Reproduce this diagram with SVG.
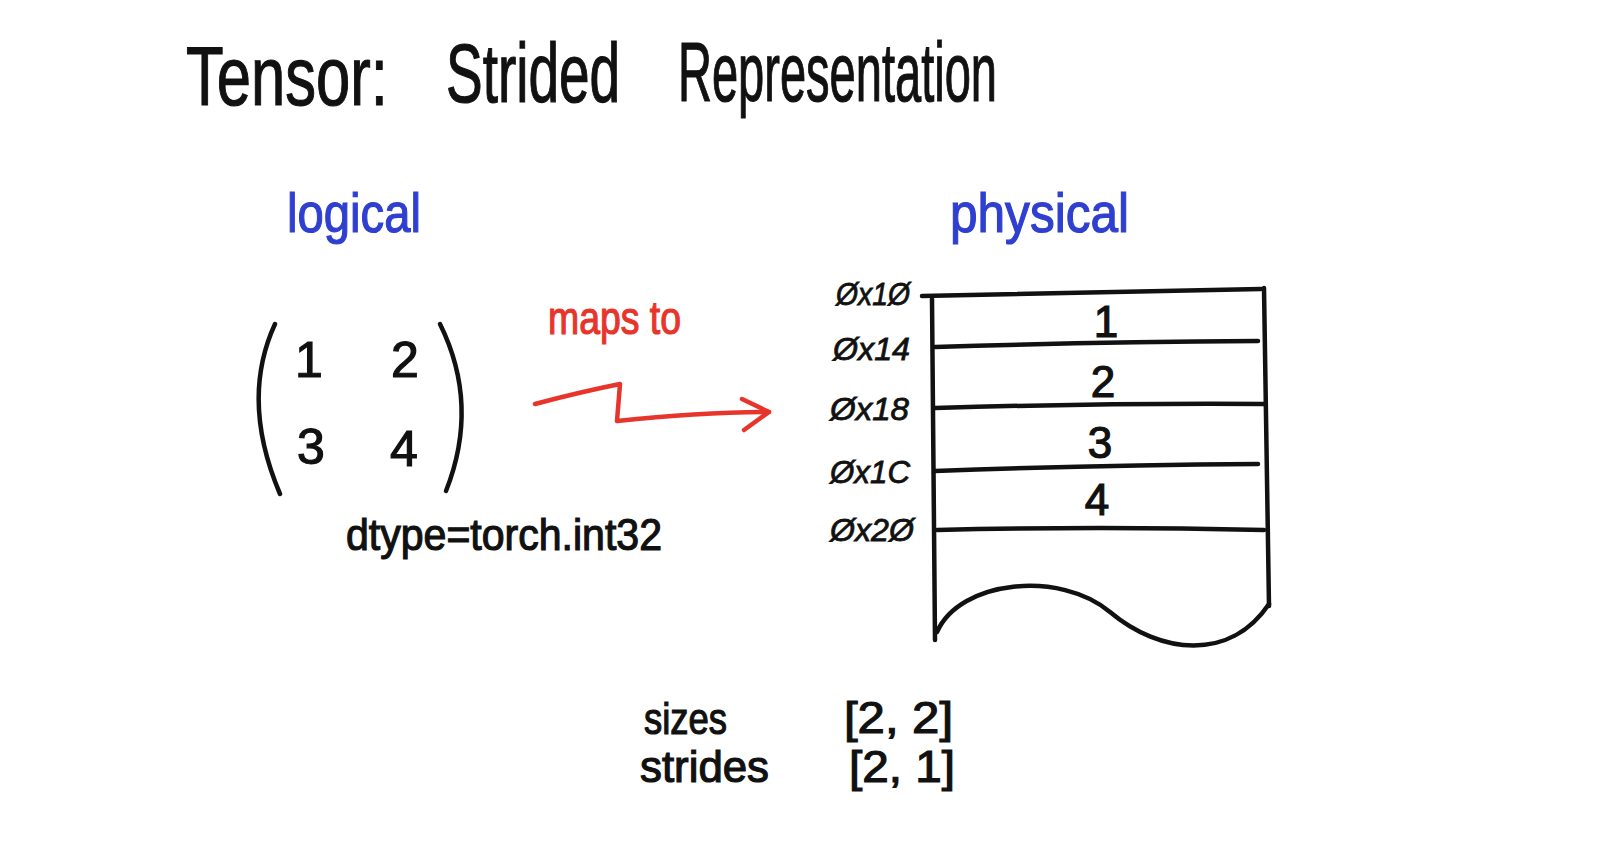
<svg xmlns="http://www.w3.org/2000/svg" width="1598" height="864" viewBox="0 0 1598 864">
<style>
text{font-family:"Liberation Sans","DejaVu Sans",sans-serif;fill:#111;stroke:#111;stroke-width:1.2}
.title{font-size:84px}
.blue{fill:#2f3fcf;stroke:#2f3fcf;font-size:56px}
.red{fill:#e8352b;stroke:#e8352b;font-size:46px}
.num{font-size:50px}
.cell{font-size:44px;text-anchor:middle}
.addr{font-size:32px;font-style:italic;stroke-width:0.8}
.lbl{font-size:44px}
.ink{fill:none;stroke:#111;stroke-width:4.5;stroke-linecap:round;stroke-linejoin:round}
.redink{fill:none;stroke:#e8352b;stroke-width:4.5;stroke-linecap:round;stroke-linejoin:round}
</style>
<rect width="1598" height="864" fill="#fff"/>
<g id="title">
<text class="title" transform="translate(186,105) scale(0.733,1)">Tensor:</text>
<text class="title" transform="translate(446,102) scale(0.654,1)">Strided</text>
<text class="title" transform="translate(678,101) scale(0.56,1)">Representation</text>
</g>
<g id="logical">
<text class="blue" x="287" y="232" textLength="134" lengthAdjust="spacingAndGlyphs">logical</text>
</g>
<g id="physical-label">
<text class="blue" x="950" y="232" textLength="179" lengthAdjust="spacingAndGlyphs">physical</text>
</g>
<g id="matrix">
<path class="ink" d="M275,324 Q240,400 280,494"/>
<path class="ink" d="M440,324 Q480,405 446,491"/>
<text class="num" x="309" y="377" text-anchor="middle">1</text>
<text class="num" x="405" y="377" text-anchor="middle">2</text>
<text class="num" x="311" y="464" text-anchor="middle">3</text>
<text class="num" x="404" y="466" text-anchor="middle">4</text>
<text class="lbl" x="346" y="550" textLength="316" lengthAdjust="spacingAndGlyphs">dtype=torch.int32</text>
</g>
<g id="connectors">
<text class="red" x="548" y="334" textLength="133" lengthAdjust="spacingAndGlyphs">maps to</text>
<path class="redink" d="M535,404 Q580,392 620,384 L617,421 Q700,412 769,412"/>
<path class="redink" d="M742,399 L769,412 L744,430"/>
</g>
<g id="memory">
<path class="ink" d="M922,296 Q1090,292 1261,289"/>
<path class="ink" d="M932,299 L935,640"/>
<path class="ink" d="M1264,288 L1269,606"/>
<path class="ink" d="M935,347 Q1090,342 1258,341"/>
<path class="ink" d="M935,408 Q1100,403 1264,404"/>
<path class="ink" d="M935,471 Q1100,465 1258,464"/>
<path class="ink" d="M937,530 Q1100,526 1264,530"/>
<path class="ink" d="M937,632 C960,580 1060,570 1110,612 C1160,654 1230,662 1269,604"/>
<text class="cell" x="1106" y="337">1</text>
<text class="cell" x="1103" y="397">2</text>
<text class="cell" x="1100" y="458">3</text>
<text class="cell" x="1097" y="515">4</text>
</g>
<g id="addresses">
<text class="addr" x="836" y="305" textLength="74" lengthAdjust="spacingAndGlyphs">Øx1Ø</text>
<text class="addr" x="833" y="360" textLength="77" lengthAdjust="spacingAndGlyphs">Øx14</text>
<text class="addr" x="830" y="420" textLength="79" lengthAdjust="spacingAndGlyphs">Øx18</text>
<text class="addr" x="830" y="483" textLength="80" lengthAdjust="spacingAndGlyphs">Øx1C</text>
<text class="addr" x="830" y="541" textLength="84" lengthAdjust="spacingAndGlyphs">Øx2Ø</text>
</g>
<g id="meta">
<text class="lbl" x="644" y="734" textLength="83" lengthAdjust="spacingAndGlyphs">sizes</text>
<text class="lbl" x="640" y="782" textLength="129" lengthAdjust="spacingAndGlyphs">strides</text>
<text class="lbl" x="844" y="733" textLength="109" lengthAdjust="spacingAndGlyphs">[2, 2]</text>
<text class="lbl" x="849" y="782" textLength="106" lengthAdjust="spacingAndGlyphs">[2, 1]</text>
</g>
</svg>
